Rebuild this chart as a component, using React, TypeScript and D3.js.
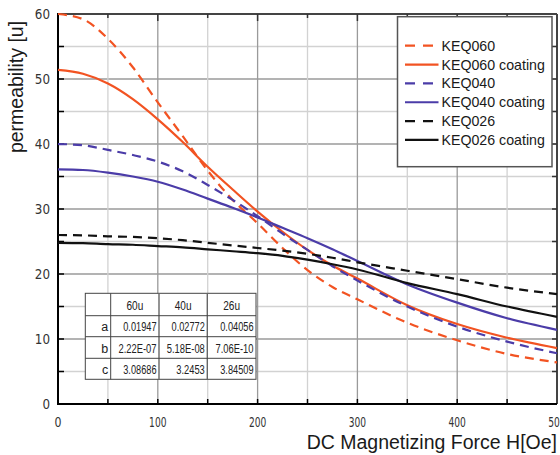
import React from 'react';
import * as d3 from 'd3';

const fieldH = [0, 25, 50, 75, 100, 125, 150, 175, 200, 225, 250, 275, 300, 350, 400, 450, 500];

// permeability readings per curve
const keq060 = [60, 59.2, 56.2, 51.8, 46.4, 41.2, 35.9, 31.4, 27.8, 24.0, 20.6, 18.0, 16.1, 12.5, 9.8, 7.7, 6.4];
const keq060Coat = [51.4, 50.8, 49.3, 46.9, 43.8, 40.3, 36.5, 33.0, 29.6, 26.5, 23.7, 21.3, 19.3, 15.2, 12.3, 10.2, 8.6];
const keq040 = [40.0, 39.8, 39.1, 38.3, 37.3, 35.8, 33.7, 31.4, 28.9, 26.2, 23.7, 21.2, 19.0, 15.0, 11.9, 9.6, 7.8];
const keq040Coat = [36.1, 36.0, 35.6, 35.0, 34.2, 33.0, 31.6, 30.2, 28.7, 27.1, 25.5, 23.8, 22.0, 18.4, 15.6, 13.2, 11.4];
const keq026 = [26.0, 25.95, 25.8, 25.7, 25.5, 25.2, 24.8, 24.4, 24.0, 23.6, 23.1, 22.5, 21.8, 20.5, 19.2, 17.9, 16.9];
const keq026Coat = [24.8, 24.75, 24.6, 24.5, 24.3, 24.1, 23.8, 23.5, 23.2, 22.8, 22.2, 21.5, 20.7, 18.6, 16.9, 15.0, 13.4];

const seriesNames = ['KEQ060', 'KEQ060 coating', 'KEQ040', 'KEQ040 coating', 'KEQ026', 'KEQ026 coating'];
const seriesValues = [keq060, keq060Coat, keq040, keq040Coat, keq026, keq026Coat];

// fit coefficient table
const tableCols = ['60u', '40u', '26u'];
const tableRows = ['a', 'b', 'c'];
const coefA = ['0.01947', '0.02772', '0.04056'];
const coefB = ['2.22E-07', '5.18E-08', '7.06E-10'];
const coefC = ['3.08686', '3.2453', '3.84509'];

const W = 560;
const H = 455;
const left = 58, right = 557, top = 14, bottom = 404;

const ORANGE = '#f25322';
const PURPLE = '#4b3ca8';
const BLACK = '#111';
const colors = [ORANGE, ORANGE, PURPLE, PURPLE, BLACK, BLACK];
const dashed = [true, false, true, false, true, false];

export default function App() {
  const x = d3.scaleLinear().domain([0, 500]).range([left, right]);
  const y = d3.scaleLinear().domain([0, 60]).range([bottom, top]);

  const line = d3
    .line<number>()
    .x((_, i) => x(fieldH[i]))
    .y((d) => y(d))
    .curve(d3.curveMonotoneX);

  const yGrid = d3.range(5, 60, 5);
  const xGrid = d3.range(50, 500, 50);
  const yLabels = d3.range(0, 61, 10);
  const xLabels = d3.range(0, 501, 100);

  // table geometry
  const colEdges = [85.3, 110.7, 159, 207.3, 256];
  const rowEdges = [293.3, 315.7, 336.7, 358.3, 379.3];
  const coefRows = [coefA, coefB, coefC];

  // legend
  const legX = 397.5, legY = 16.7, legW = 154.5, legH = 150;
  const legRow0 = 45.7, legStep = 18.85;

  return (
    <svg width={W} height={H} style={{ position: 'absolute', left: 0, top: 0, background: '#fff' }}>
      <rect x={0} y={0} width={W} height={H} fill="#fff" />

      {/* grid */}
      {yGrid.map((v) => (
        <line key={'gy' + v} x1={left} x2={right} y1={y(v)} y2={y(v)}
          stroke={v % 10 === 0 ? '#9a9a9a' : '#d2d2d2'} strokeWidth={1.3} />
      ))}
      {xGrid.map((v) => (
        <line key={'gx' + v} x1={x(v)} x2={x(v)} y1={top} y2={bottom}
          stroke={v % 100 === 0 ? '#9a9a9a' : '#d2d2d2'} strokeWidth={1.3} />
      ))}

      {/* frame */}
      <line x1={left} x2={right} y1={top} y2={top} stroke="#444" strokeWidth={2} />
      <line x1={right} x2={right} y1={top} y2={bottom} stroke="#444" strokeWidth={2} />
      <line x1={left} x2={left} y1={top - 1} y2={bottom + 1} stroke="#000" strokeWidth={2} />
      <line x1={left - 1} x2={right} y1={bottom} y2={bottom} stroke="#000" strokeWidth={2} />

      {/* ticks */}
      {d3.range(5, 60, 5).map((v) => (
        <g key={'ty' + v}>
          <line x1={left} x2={left + 6} y1={y(v)} y2={y(v)} stroke="#000" strokeWidth={1.5} />
          <line x1={right - 5} x2={right} y1={y(v)} y2={y(v)} stroke="#333" strokeWidth={1.5} />
        </g>
      ))}
      {d3.range(50, 500, 50).map((v) => (
        <g key={'tx' + v}>
          <line x1={x(v)} x2={x(v)} y1={bottom} y2={bottom - 5} stroke="#000" strokeWidth={1.5} />
          <line x1={x(v)} x2={x(v)} y1={top} y2={top + (v % 100 === 0 ? 7 : 4)} stroke="#333" strokeWidth={1.5} />
        </g>
      ))}

      {/* tick labels */}
      {yLabels.map((v) => (
        <text key={'ly' + v} x={50} y={y(v) + 5} textAnchor="end" fontFamily="DejaVu Sans" fontSize={14}
          fill="#333" textLength={String(v).length * 7.6} lengthAdjust="spacingAndGlyphs">{v}</text>
      ))}
      {xLabels.map((v) => (
        <text key={'lx' + v} x={x(v)} y={427} textAnchor="middle" fontFamily="DejaVu Sans" fontSize={14}
          fill="#333" textLength={String(v).length === 1 ? 7 : String(v).length * 5.8}
          lengthAdjust="spacingAndGlyphs">{v}</text>
      ))}

      {/* axis titles */}
      <text x={557} y={449} textAnchor="end" fontFamily="Liberation Sans, Arial, sans-serif" fontSize={19.5}
        fill="#1a1a1a">DC Magnetizing Force H[Oe]</text>
      <text transform="translate(23,87) rotate(-90)" textAnchor="middle"
        fontFamily="Liberation Sans, Arial, sans-serif" fontSize={19.5} fill="#1a1a1a">permeability [u]</text>

      {/* curves */}
      {seriesValues.map((vals, i) => (
        <path key={seriesNames[i]} d={line(vals) || ''} fill="none" stroke={colors[i]} strokeWidth={2.2}
          strokeDasharray={dashed[i] ? '9,6' : undefined} />
      ))}

      {/* coefficient table */}
      <g fontFamily="Liberation Sans, Arial, sans-serif" fontSize={12.5} fill="#222">
        <rect x={colEdges[0]} y={rowEdges[0]} width={colEdges[4] - colEdges[0]} height={rowEdges[4] - rowEdges[0]}
          fill="#fff" stroke="#444" strokeWidth={1} />
        {colEdges.slice(1, 4).map((cx, i) => (
          <line key={'tc' + i} x1={cx} x2={cx} y1={rowEdges[0]} y2={rowEdges[4]} stroke={i === 0 ? '#444' : '#666'}
            strokeWidth={i === 0 ? 1 : 1.4} />
        ))}
        {rowEdges.slice(1, 4).map((ry, i) => (
          <line key={'tr' + i} x1={colEdges[0]} x2={colEdges[4]} y1={ry} y2={ry} stroke="#444" strokeWidth={1} />
        ))}
        {tableCols.map((c, j) => (
          <text key={'th' + c} x={(colEdges[j + 1] + colEdges[j + 2]) / 2} y={rowEdges[1] - 6} textAnchor="middle"
            textLength={c.length * 5.6} lengthAdjust="spacingAndGlyphs">{c}</text>
        ))}
        {tableRows.map((r, i) => (
          <g key={'row' + r}>
            <text x={colEdges[1] - 2.5} y={rowEdges[i + 2] - 5.5} textAnchor="end">{r}</text>
            {coefRows[i].map((v, j) => (
              <text key={v} x={colEdges[j + 2] - 2.5} y={rowEdges[i + 2] - 5.5} textAnchor="end"
                textLength={v.length * 4.75} lengthAdjust="spacingAndGlyphs">{v}</text>
            ))}
          </g>
        ))}
      </g>

      {/* legend */}
      <rect x={legX} y={legY} width={legW} height={legH} fill="#fff" stroke="#555" strokeWidth={1.5} />
      {seriesNames.map((name, i) => {
        const ly = legRow0 + i * legStep;
        return (
          <g key={'leg' + name}>
            <line x1={405} x2={dashed[i] ? 433.5 : 438.5} y1={ly} y2={ly} stroke={colors[i]} strokeWidth={2.2}
              strokeDasharray={dashed[i] ? '10,8' : undefined} />
            <text x={441.5} y={ly + 5} fontFamily="Liberation Sans, Arial, sans-serif" fontSize={14.2}
              fill="#1a1a1a">{name}</text>
          </g>
        );
      })}
    </svg>
  );
}
